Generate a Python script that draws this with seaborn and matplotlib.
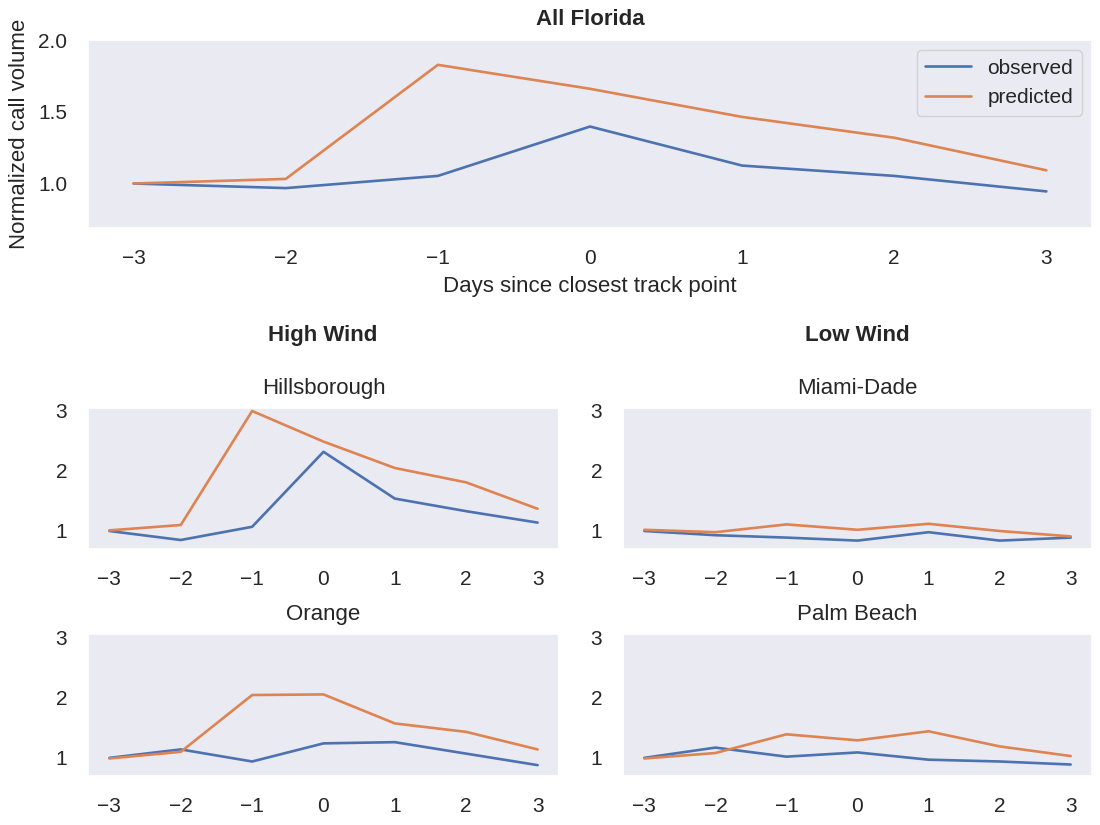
import matplotlib
matplotlib.use("Agg")
import matplotlib.pyplot as plt
import numpy as np
import pandas as pd
import seaborn as sns

# Days relative to the closest track point
days = [-3, -2, -1, 0, 1, 2, 3]

# All Florida
fl_observed = [1.00, 0.968, 1.053, 1.397, 1.125, 1.053, 0.945]
fl_predicted = [1.00, 1.032, 1.827, 1.660, 1.464, 1.319, 1.092]

# High wind counties
hills_observed = [1.00, 0.85, 1.07, 2.32, 1.54, 1.33, 1.14]
hills_predicted = [1.01, 1.10, 3.00, 2.49, 2.05, 1.81, 1.37]
orange_observed = [1.00, 1.14, 0.94, 1.24, 1.26, 1.07, 0.88]
orange_predicted = [0.99, 1.10, 2.04, 2.05, 1.57, 1.43, 1.14]

# Low wind counties
miami_observed = [1.00, 0.93, 0.89, 0.84, 0.98, 0.84, 0.89]
miami_predicted = [1.02, 0.98, 1.11, 1.02, 1.12, 1.00, 0.91]
palm_observed = [1.00, 1.17, 1.02, 1.09, 0.97, 0.94, 0.89]
palm_predicted = [0.99, 1.08, 1.39, 1.29, 1.44, 1.19, 1.03]


def to_long(observed, predicted):
    return pd.DataFrame({
        "day": days * 2,
        "value": observed + predicted,
        "series": ["observed"] * len(days) + ["predicted"] * len(days),
    })


sns.set_theme(style="dark")
plt.rcParams['font.family'] = ['Liberation Sans', 'DejaVu Sans']
palette = sns.color_palette("deep")[:2]

fig = plt.figure(figsize=(11, 8.25), dpi=100)
W, H = 1100, 825


def px_axes(left, right, top, bottom):
    return fig.add_axes([left / W, 1 - bottom / H, (right - left) / W, (bottom - top) / H])


def draw(ax, observed, predicted, legend=False):
    sns.lineplot(data=to_long(observed, predicted), x="day", y="value", hue="series",
                 palette=palette, linewidth=1.9, ax=ax, legend=legend)
    ax.set_xticks(days)
    ax.tick_params(labelsize=15, pad=9)


# --- top panel ---
ax_top = px_axes(88, 1092, 40, 228)
draw(ax_top, fl_observed, fl_predicted, legend=True)
ax_top.set_ylim(0.69, 2.0)
ax_top.set_yticks([1.0, 1.5, 2.0])
ax_top.set_xlabel("Days since closest track point", fontsize=16, labelpad=6)
ax_top.set_ylabel("Normalized call volume", fontsize=16, labelpad=6)
ax_top.set_title("All Florida", fontsize=16, fontweight="bold", pad=11)
leg = ax_top.legend(loc="upper right", fontsize=15, title=None, handlelength=2.2)

# --- county panels ---
counties = [
    ("Hillsborough", hills_observed, hills_predicted, (88, 559, 408, 549)),
    ("Miami-Dade", miami_observed, miami_predicted, (623, 1092, 408, 549)),
    ("Orange", orange_observed, orange_predicted, (88, 559, 634, 776)),
    ("Palm Beach", palm_observed, palm_predicted, (623, 1092, 634, 776)),
]
for name, obs, pred, box in counties:
    ax = px_axes(*box)
    draw(ax, obs, pred)
    ax.set_ylim(0.7, 3.05)
    ax.set_yticks([1, 2, 3])
    ax.set_xlabel("")
    ax.set_ylabel("")
    ax.set_title(name, fontsize=16, pad=10)

fig.text(323 / W, 1 - 336 / H, "High Wind", ha="center", va="center",
         fontsize=16, fontweight="bold")
fig.text(857 / W, 1 - 336 / H, "Low Wind", ha="center", va="center",
         fontsize=16, fontweight="bold")

fig.savefig("out.png", dpi=100)
